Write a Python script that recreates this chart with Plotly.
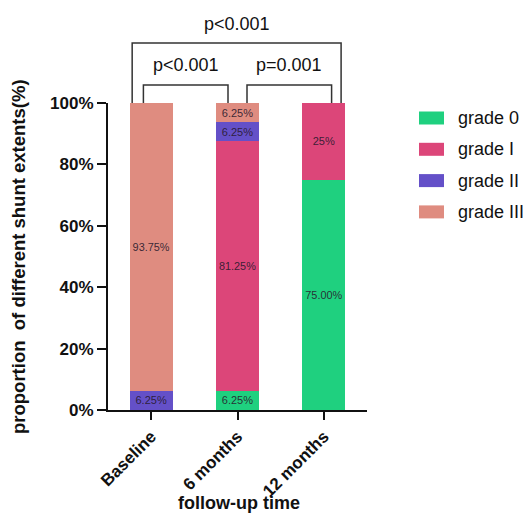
import plotly.graph_objects as go

# ---- data ----
categories = ["Baseline", "6 months", "12 months"]
grades = ["grade 0", "grade I", "grade II", "grade III"]
grade0 = [0, 6.25, 75.0]
grade1 = [0, 81.25, 25.0]
grade2 = [6.25, 6.25, 0]
grade3 = [93.75, 6.25, 0]
labels0 = ["", "6.25%", "75.00%"]
labels1 = ["", "81.25%", "25%"]
labels2 = ["6.25%", "6.25%", ""]
labels3 = ["93.75%", "6.25%", ""]
colors = ["#1fd07f", "#dc4679", "#6450c8", "#df8c80"]
y_ticks = [0, 20, 40, 60, 80, 100]
comparisons = [  # (from category idx, to category idx, label, level)
    (0, 1, "p<0.001", 0),
    (1, 2, "p=0.001", 0),
    (0, 2, "p<0.001", 1),
]

FONT = "Arial, Liberation Sans, sans-serif"

series = [grade0, grade1, grade2, grade3]
series_labels = [labels0, labels1, labels2, labels3]

fig = go.Figure()
for name, vals, txt, col in zip(grades, series, series_labels, colors):
    fig.add_trace(go.Bar(
        x=categories, y=vals, name=name, text=txt,
        marker=dict(color=col, line=dict(width=0)),
        textposition="inside", insidetextanchor="middle", textangle=0,
        textfont=dict(size=11, color="rgba(40,25,45,0.9)", family=FONT),
        width=0.5, showlegend=False,
    ))

L, R, T, B = 108, 159, 103, 107
W, H = 526, 517
pw, ph = W - L - R, H - T - B

def py2paper(py):
    return (H - B - py) / ph

def px2paper(px):
    return (px - L) / pw

shapes = []
annotations = []
# significance brackets
line_style = dict(color="#333333", width=1.5)
for a, b, lab, lvl in comparisons:
    if lvl == 0:
        x0, x1 = a + 0.11, b - 0.11
        if a == 0:
            x0 = a - 0.09
        if b == 2:
            x1 = b + 0.09
        ytop = py2paper(85)
        ytxt = py2paper(65)
    else:
        x0, x1 = a - 0.22, b + 0.2
        ytop = py2paper(43)
        ytxt = py2paper(24)
    ybot = 1.0
    shapes.append(dict(type="path", xref="x", yref="paper",
                       path=f"M {x0},{ybot} L {x0},{ytop} L {x1},{ytop} L {x1},{ybot}",
                       line=line_style))
    annotations.append(dict(x=(x0 + x1) / 2, y=ytxt, xref="x", yref="paper",
                            text=lab, showarrow=False, xanchor="center", yanchor="middle",
                            font=dict(size=18, color="#111", family=FONT)))

# custom legend
for i, (name, col) in enumerate(zip(grades, colors)):
    cy = 118 + 31.3 * i
    shapes.append(dict(type="rect", xref="paper", yref="paper",
                       x0=px2paper(419), x1=px2paper(444),
                       y0=py2paper(cy + 6.5), y1=py2paper(cy - 6.5),
                       fillcolor=col, line=dict(width=0)))
    annotations.append(dict(x=px2paper(456), y=py2paper(cy), xref="paper", yref="paper",
                            text=name, showarrow=False, xanchor="left", yanchor="middle",
                            font=dict(size=18, color="#111", family=FONT)))

# axis titles
annotations.append(dict(x=px2paper(18), y=py2paper(257), xref="paper", yref="paper",
                        text="<b>proportion  of different shunt extents(%)</b>",
                        textangle=-90, showarrow=False, xanchor="center", yanchor="middle",
                        font=dict(size=18.5, color="#111", family=FONT)))
annotations.append(dict(x=px2paper(239), y=py2paper(503), xref="paper", yref="paper",
                        text="<b>follow-up time</b>", showarrow=False,
                        xanchor="center", yanchor="middle",
                        font=dict(size=18, color="#111", family=FONT)))

fig.update_layout(
    barmode="stack",
    width=W, height=H,
    margin=dict(l=L, r=R, t=T, b=B, autoexpand=False),
    plot_bgcolor="white", paper_bgcolor="white",
    shapes=shapes, annotations=annotations,
    font=dict(family=FONT, color="#111"),
    xaxis=dict(range=[-0.5, 2.5], showline=True, linecolor="#111", linewidth=2,
               ticks="outside", ticklen=8, tickwidth=2, tickcolor="#111",
               tickangle=-45, tickfont=dict(size=17, family=FONT, color="#111"),
               tickvals=list(range(len(categories))),
               ticktext=[f"<b>{c}</b>" for c in categories],
               showgrid=False, zeroline=False, fixedrange=True),
    yaxis=dict(range=[0, 100], showline=True, linecolor="#111", linewidth=2,
               ticks="outside", ticklen=9, tickwidth=2, tickcolor="#111",
               tickvals=y_ticks, ticktext=[f"<b>{v}%</b>" for v in y_ticks],
               tickfont=dict(size=17, family=FONT, color="#111"),
               showgrid=False, zeroline=False, fixedrange=True),
)

fig.write_html("out.html", config={"displayModeBar": False},
               post_script="document.body.style.margin='0';document.body.style.overflow='hidden';")
